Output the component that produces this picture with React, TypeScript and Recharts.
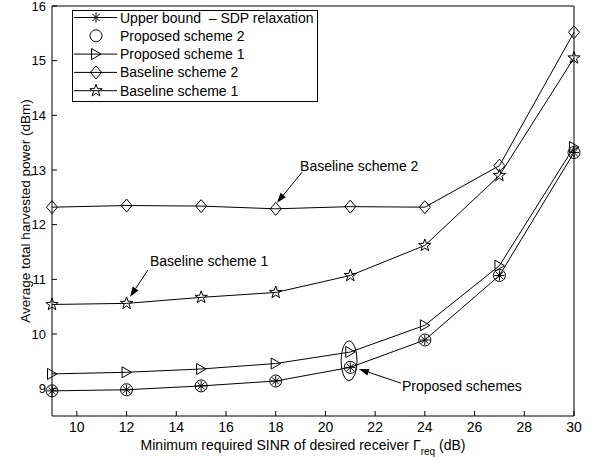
import React from "react";
import {
  LineChart,
  Line,
  XAxis,
  YAxis,
  Legend,
  ReferenceLine,
  ReferenceDot,
} from "recharts";

// x values: minimum required SINR (dB)
const SINR = [9, 12, 15, 18, 21, 24, 27, 30];

// average total harvested power (dBm)
const UPPER_BOUND = [8.96, 8.98, 9.05, 9.14, 9.39, 9.89, 11.07, 13.32];
const PROPOSED_2 = [8.96, 8.98, 9.05, 9.14, 9.39, 9.89, 11.07, 13.32];
const PROPOSED_1 = [9.27, 9.3, 9.36, 9.46, 9.67, 10.16, 11.25, 13.42];
const BASELINE_2 = [12.32, 12.35, 12.34, 12.29, 12.33, 12.32, 13.08, 15.52];
const BASELINE_1 = [10.54, 10.56, 10.67, 10.76, 11.07, 11.62, 12.9, 15.05];

const X_TICKS = [10, 12, 14, 16, 18, 20, 22, 24, 26, 28, 30];
const Y_TICKS = [9, 10, 11, 12, 13, 14, 15, 16];

const FONT = '"Liberation Sans", Arial, Helvetica, sans-serif';
const FS = 14;

type MarkerKind = "asterisk" | "circle" | "triangle" | "diamond" | "star";

const SERIES: Array<{
  key: string;
  label: string;
  marker: MarkerKind;
  values: number[];
  showLine: boolean;
}> = [
  { key: "ub", label: "Upper bound \u00a0\u2013 SDP relaxation", marker: "asterisk", values: UPPER_BOUND, showLine: true },
  { key: "p2", label: "Proposed scheme 2", marker: "circle", values: PROPOSED_2, showLine: false },
  { key: "p1", label: "Proposed scheme 1", marker: "triangle", values: PROPOSED_1, showLine: true },
  { key: "b2", label: "Baseline scheme 2", marker: "diamond", values: BASELINE_2, showLine: true },
  { key: "b1", label: "Baseline scheme 1", marker: "star", values: BASELINE_1, showLine: true },
];

const data = SINR.map((x, i) => {
  const row: Record<string, number> = { x };
  for (const s of SERIES) row[s.key] = s.values[i];
  return row;
});

function Marker({ kind, cx, cy }: { kind: MarkerKind; cx: number; cy: number }) {
  const common = { fill: "none", stroke: "#000", strokeWidth: 1 };
  if (kind === "asterisk") {
    const r = 5;
    const d = r * Math.SQRT1_2;
    return (
      <g {...common}>
        <line x1={cx - r} y1={cy} x2={cx + r} y2={cy} />
        <line x1={cx} y1={cy - r} x2={cx} y2={cy + r} />
        <line x1={cx - d} y1={cy - d} x2={cx + d} y2={cy + d} />
        <line x1={cx - d} y1={cy + d} x2={cx + d} y2={cy - d} />
      </g>
    );
  }
  if (kind === "circle") return <circle cx={cx} cy={cy} r={6} {...common} />;
  if (kind === "triangle") {
    const pts = `${cx + 5},${cy} ${cx - 4.5},${cy - 5.5} ${cx - 4.5},${cy + 5.5}`;
    return <polygon points={pts} {...common} />;
  }
  if (kind === "diamond") {
    const pts = `${cx},${cy - 6.5} ${cx + 5.5},${cy} ${cx},${cy + 6.5} ${cx - 5.5},${cy}`;
    return <polygon points={pts} {...common} />;
  }
  const pts: string[] = [];
  for (let k = 0; k < 10; k++) {
    const r = k % 2 === 0 ? 6.5 : 2.6;
    const a = -Math.PI / 2 + (k * Math.PI) / 5;
    pts.push(`${cx + r * Math.cos(a)},${cy + r * Math.sin(a)}`);
  }
  return <polygon points={pts.join(" ")} {...common} />;
}

function LegendBox() {
  return (
    <svg width={246} height={92} style={{ display: "block" }}>
      <rect x={0.5} y={0.5} width={245} height={91} fill="#fff" stroke="#000" />
      {SERIES.map((s, i) => {
        const y = 7.5 + i * 18.3;
        return (
          <g key={s.key}>
            {s.showLine && <line x1={2} y1={y} x2={45} y2={y} stroke="#000" />}
            <Marker kind={s.marker} cx={24} cy={y} />
            <text x={48} y={y + 5} fontSize={FS} fontFamily={FONT} fill="#000" xmlSpace="preserve">
              {s.label}
            </text>
          </g>
        );
      })}
    </svg>
  );
}

function Arrow(p: any) {
  const { x1, y1, x2, y2 } = p;
  const a = Math.atan2(y2 - y1, x2 - x1);
  const len = 10;
  const w = 3.5;
  const bx = x2 - len * Math.cos(a);
  const by = y2 - len * Math.sin(a);
  const px = -Math.sin(a) * w;
  const py = Math.cos(a) * w;
  return (
    <g>
      <line x1={x1} y1={y1} x2={bx} y2={by} stroke="#000" strokeWidth={1} />
      <polygon points={`${x2},${y2} ${bx + px},${by + py} ${bx - px},${by - py}`} fill="#000" />
    </g>
  );
}

const note = (text: string) => (p: any) => (
  <text x={p.cx} y={p.cy + 5} fontSize={FS} fontFamily={FONT} fill="#000">
    {text}
  </text>
);

function XLabel(p: any) {
  const vb = p.viewBox;
  return (
    <text x={vb.x + vb.width / 2 - 10} y={vb.y + 34} textAnchor="middle" fontSize={FS} fontFamily={FONT} fill="#000">
      Minimum required SINR of desired receiver {"\u0393"}
      <tspan fontSize={10} dy={5}>req</tspan>
      <tspan dy={-5}> (dB)</tspan>
    </text>
  );
}

function YLabel(p: any) {
  const vb = p.viewBox;
  const cx = vb.x + 25;
  const cy = vb.y + vb.height / 2;
  return (
    <text x={cx} y={cy} transform={`rotate(-90 ${cx} ${cy})`} textAnchor="middle" dominantBaseline="central" fontSize={13.5} fontFamily={FONT} fill="#000">
      Average total harvested power (dBm)
    </text>
  );
}

const xTickStyle = { fill: "#000", fontSize: FS, fontFamily: FONT };
const yTickStyle = { fill: "#000", fontSize: 13, fontFamily: FONT };

export default function App() {
  return (
    <div style={{ position: "absolute", left: 0, top: 0, background: "#fff" }}>
      <LineChart width={592} height={462} data={data} margin={{ top: 5, right: 17, bottom: 0, left: 0 }}>
        <XAxis
          dataKey="x"
          type="number"
          domain={[9, 30]}
          ticks={X_TICKS}
          interval={0}
          tickSize={-5}
          tickMargin={11}
          height={46}
          stroke="#000"
          tick={xTickStyle}
          label={<XLabel />}
        />
        <XAxis
          xAxisId="top"
          orientation="top"
          dataKey="x"
          type="number"
          domain={[9, 30]}
          ticks={X_TICKS}
          interval={0}
          tickSize={-5}
          height={1}
          stroke="#000"
          tick={false}
        />
        <YAxis
          type="number"
          domain={[8.5, 16]}
          ticks={Y_TICKS}
          interval={0}
          tickSize={-5}
          tickMargin={11}
          width={52}
          stroke="#000"
          tick={yTickStyle}
          allowDataOverflow
          label={<YLabel />}
        />
        <YAxis
          yAxisId="right"
          orientation="right"
          type="number"
          domain={[8.5, 16]}
          ticks={Y_TICKS}
          interval={0}
          tickSize={-5}
          width={1}
          stroke="#000"
          tick={false}
          allowDataOverflow
        />
        {SERIES.map((s) => (
          <Line
            key={s.key}
            dataKey={s.key}
            type="linear"
            stroke={s.showLine ? "#000" : "none"}
            strokeWidth={1}
            isAnimationActive={false}
            activeDot={false}
            dot={(p: any) => <Marker key={`${s.key}-${p.index}`} kind={s.marker} cx={p.cx} cy={p.cy} />}
          />
        ))}

        {/* annotations */}
        <ReferenceLine segment={[{ x: 19.06, y: 12.96 }, { x: 18.05, y: 12.4 }]} shape={Arrow} />
        <ReferenceDot x={18.98} y={13.08} shape={note("Baseline scheme 2")} />
        <ReferenceLine segment={[{ x: 12.86, y: 11.17 }, { x: 12.14, y: 10.68 }]} shape={Arrow} />
        <ReferenceDot x={12.94} y={11.34} shape={note("Baseline scheme 1")} />
        <ReferenceLine segment={[{ x: 23.04, y: 9.1 }, { x: 21.35, y: 9.36 }]} shape={Arrow} />
        <ReferenceDot x={23.08} y={9.05} shape={note("Proposed schemes")} />
        <ReferenceDot
          x={20.95}
          y={9.51}
          shape={(p: any) => <ellipse cx={p.cx} cy={p.cy} rx={8} ry={20} fill="none" stroke="#000" />}
        />

        <Legend
          layout="vertical"
          align="center"
          verticalAlign="middle"
          wrapperStyle={{ left: 72, top: 10, width: 246 }}
          content={() => <LegendBox />}
        />
      </LineChart>
    </div>
  );
}
